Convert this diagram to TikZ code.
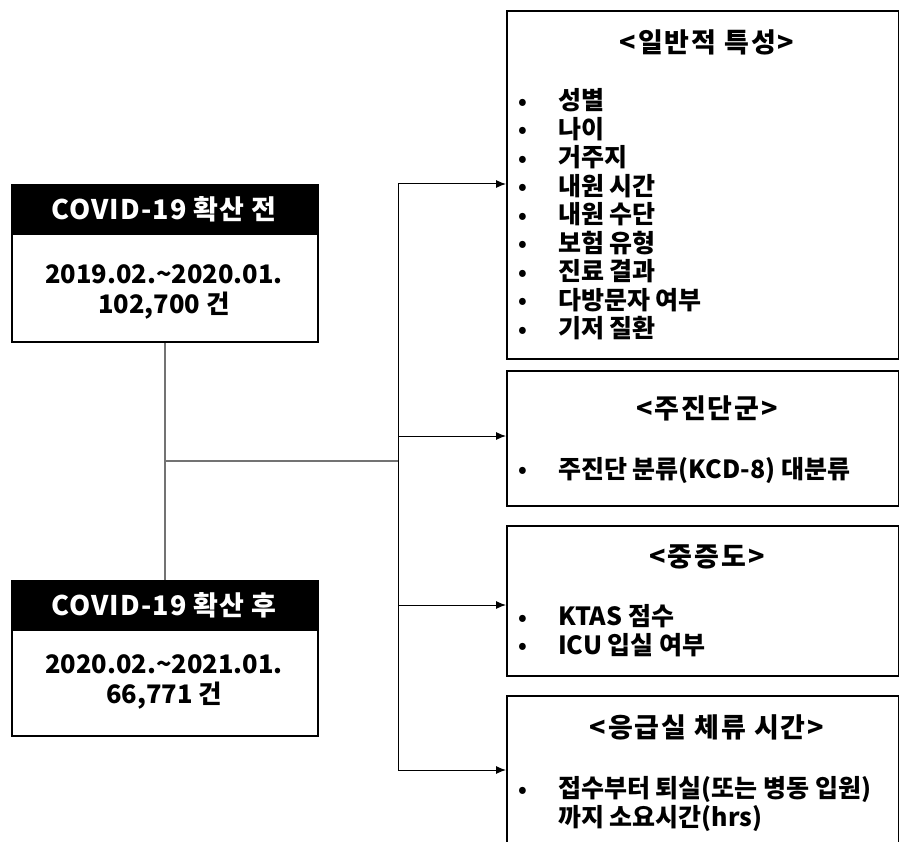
\documentclass[tikz,border=0pt]{standalone}
\usepackage{fontspec}
\setmainfont{Noto Sans CJK KR}
\newfontfamily\widefont{Noto Sans CJK KR}[LetterSpace=4]
\newfontfamily\widerfont{Noto Sans CJK KR}[LetterSpace=7]
\usetikzlibrary{arrows.meta}
\tikzset{
  frame/.style={draw=black, line width=1.8pt, rectangle, inner sep=0pt, anchor=north west},
  head/.style={fill=black, draw=black, line width=1.8pt, rectangle, inner sep=0pt, anchor=north west},
  headtxt/.style={text=white, font=\fontsize{27}{30}\widefont\bfseries},
  bodytxt/.style={align=center, font=\fontsize{25.5}{30.5}\selectfont\bfseries},
  title/.style={font=\fontsize{27}{30}\widerfont\bfseries},
  item/.style={anchor=west, font=\fontsize{25}{28.5}\selectfont\bfseries, inner sep=0pt},
  bul/.style={anchor=center, font=\fontsize{22}{24}\selectfont\bfseries, inner sep=0pt},
  link/.style={draw=black!55, line width=1.3pt},
  arr/.style={draw=black, line width=1pt, -{Latex[length=10pt,width=8pt]}}
}
\begin{document}
\begin{tikzpicture}[x=1pt,y=-1pt]
\useasboundingbox (0,0) rectangle (899,842);
\begin{scope}
\clip (0,0) rectangle (899,842);
% left boxes
\node[frame, minimum width=306pt, minimum height=157pt] (pre) at (11,184) {};
\node[head, minimum width=306pt, minimum height=49pt] (preh) at (11,184) {};
\node[headtxt] (prehtxt) at (164,209) {COVID-19 확산 전};
\node[bodytxt] (pretxt) at (164,292) {2019.02.\textasciitilde 2020.01.\\102,700 건};

\node[frame, minimum width=306pt, minimum height=155pt] (post) at (11,580) {};
\node[head, minimum width=306pt, minimum height=49pt] (posth) at (11,580) {};
\node[headtxt] (posthtxt) at (164,605) {COVID-19 확산 후};
\node[bodytxt] (posttxt) at (164,682) {2020.02.\textasciitilde 2021.01.\\66,771 건};

% right boxes
\node[frame, minimum width=392pt, minimum height=348pt] (g1) at (506,10) {};
\node[frame, minimum width=392pt, minimum height=135pt] (g2) at (506,370) {};
\node[frame, minimum width=392pt, minimum height=150pt] (g3) at (506,525) {};
\node[frame, minimum width=392pt, minimum height=170pt] (g4) at (506,695) {};

\node[title] (t1) at (707,42) {<일반적 특성>};
\node[title] (t2) at (707,408) {<주진단군>};
\node[title] (t3) at (707,557) {<중증도>};
\node[title] (t4) at (707,727) {<응급실 체류 시간>};

\foreach \y [count=\i] in {104,132.5,161,189.5,218,246.5,275,303.5,332} {
  \node[bul] (b1\i) at (523,\y) {•};
}
\node[item, align=left, anchor=north west] (i1) at (558,88.5) {성별\\나이\\거주지\\내원 시간\\내원 수단\\보험 유형\\진료 결과\\다방문자 여부\\기저 질환};

\node[bul] (b21) at (523,472) {•};
\node[item] (i2) at (558,471) {주진단 분류(KCD-8) 대분류};

\node[bul] (b31) at (523,620) {•};
\node[bul] (b32) at (523,648.5) {•};
\node[item, align=left, anchor=north west] (i3) at (558,604.5) {KTAS 점수\\ICU 입실 여부};

\node[bul] (b41) at (523,792) {•};
\node[item, align=left, anchor=north west] (i4) at (558,776.5) {접수부터 퇴실(또는 병동 입원)\\까지 소요시간(hrs)};

% connectors
\coordinate (j) at (165,461);
\coordinate (tr) at (398,461);
\coordinate (a1) at (398,184);
\coordinate (a2) at (398,436);
\coordinate (a3) at (398,605);
\coordinate (a4) at (398,770);
\draw[link] (pre.south -| j) -- (post.north -| j);
\draw[link] (j) -- (tr);
\draw[draw=black, line width=1pt] (a1) -- (a4);
\draw[arr] (a1) -- (a1 -| g1.west);
\draw[arr] (a2) -- (a2 -| g2.west);
\draw[arr] (a3) -- (a3 -| g3.west);
\draw[arr] (a4) -- (a4 -| g4.west);
\end{scope}
\end{tikzpicture}
\end{document}
